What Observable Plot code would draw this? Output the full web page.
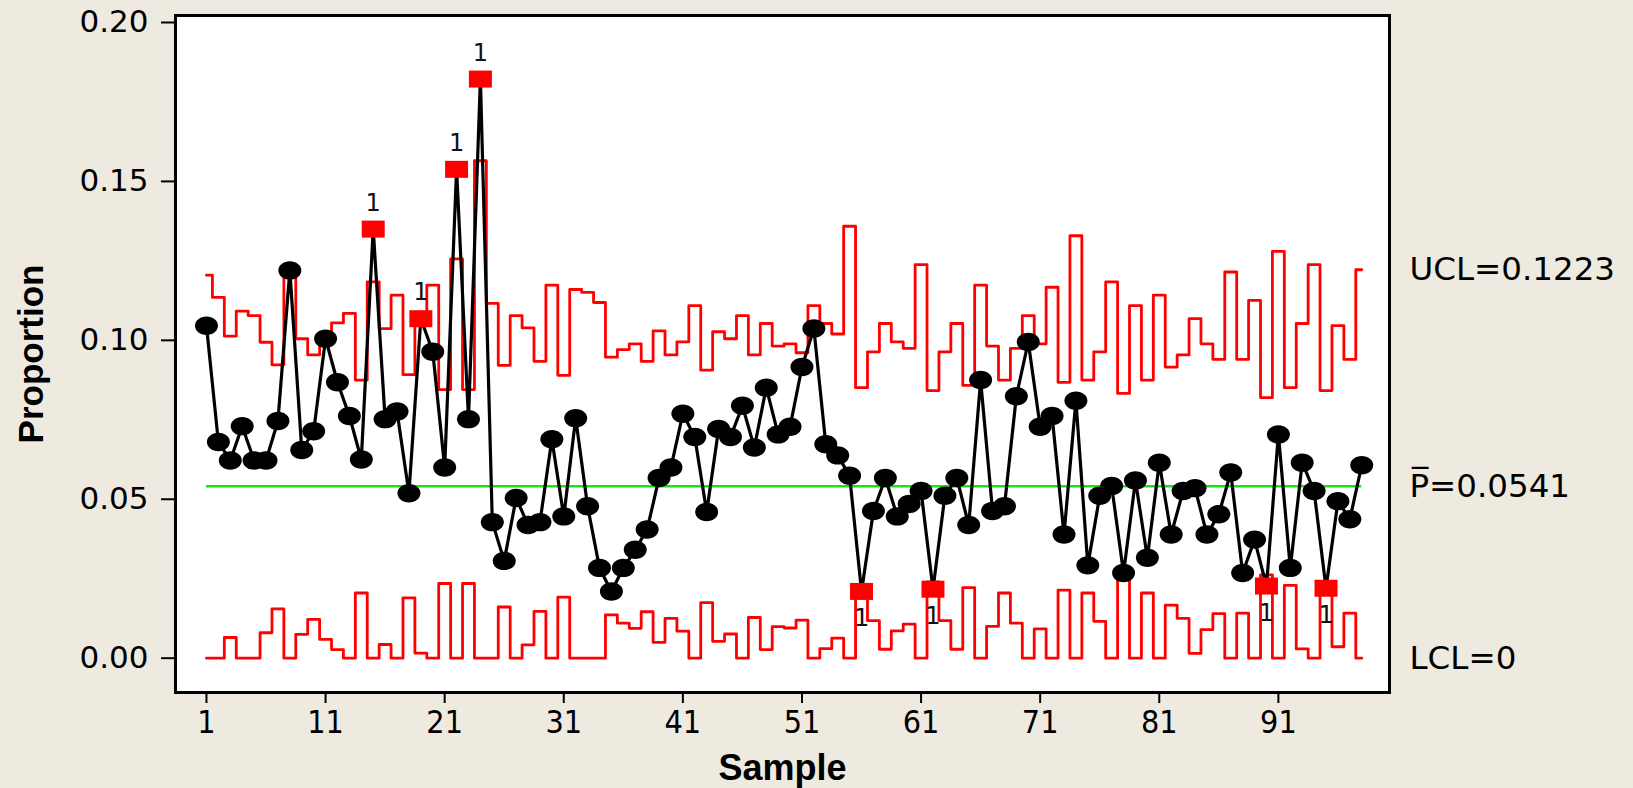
<!DOCTYPE html>
<html><head><meta charset="utf-8">
<script src="https://cdn.jsdelivr.net/npm/d3@7"></script>
<script src="https://cdn.jsdelivr.net/npm/@observablehq/plot@0.6"></script>
<style>
html,body{margin:0;padding:0;background:#EEEAE0;overflow:hidden;}
#chart svg{display:block;}
</style></head><body><div id="chart"></div>
<script>
// Sample proportions (samples 1..98)
const proportion = [
0.1046,0.0680,0.0622,0.0730,0.0622,0.0622,0.0746,0.1220,0.0655,0.0714,
0.1005,0.0868,0.0762,0.0625,0.1350,0.0752,0.0776,0.0519,0.1068,0.0964,
0.0600,0.1538,0.0752,0.1822,0.0428,0.0306,0.0504,0.0419,0.0428,0.0689,
0.0446,0.0755,0.0478,0.0284,0.0210,0.0284,0.0341,0.0405,0.0567,0.0600,
0.0769,0.0696,0.0460,0.0721,0.0696,0.0794,0.0663,0.0851,0.0704,0.0728,
0.0916,0.1037,0.0673,0.0638,0.0574,0.0210,0.0463,0.0567,0.0446,0.0485,
0.0526,0.0217,0.0511,0.0567,0.0419,0.0875,0.0463,0.0478,0.0824,0.0995,
0.0728,0.0762,0.0389,0.0810,0.0292,0.0511,0.0542,0.0268,0.0559,0.0316,
0.0615,0.0389,0.0526,0.0535,0.0389,0.0453,0.0584,0.0268,0.0373,0.0227,
0.0704,0.0284,0.0615,0.0526,0.0220,0.0494,0.0437,0.0607];
// Upper control limit per sample
const ucl = [
0.1205,0.1135,0.1013,0.1092,0.1078,0.0994,0.0923,0.1228,0.1005,0.0954,
0.1023,0.1055,0.1085,0.0875,0.1184,0.1037,0.1142,0.0892,0.1066,0.1174,
0.0845,0.1256,0.0845,0.1565,0.1116,0.0921,0.1078,0.1039,0.0934,0.1174,
0.0890,0.1160,0.1151,0.1119,0.0947,0.0971,0.0989,0.0934,0.1030,0.0954,
0.0995,0.1109,0.0906,0.1027,0.1005,0.1078,0.0954,0.1053,0.0982,0.0989,
0.0961,0.1109,0.1053,0.1020,0.1359,0.0851,0.0964,0.1053,0.0995,0.0975,
0.1238,0.0842,0.0964,0.1053,0.0858,0.1174,0.0982,0.0875,0.0975,0.1078,
0.0989,0.1167,0.0868,0.1329,0.0875,0.0964,0.1184,0.0833,0.1109,0.0875,
0.1142,0.0916,0.0954,0.1068,0.0989,0.0940,0.1215,0.0940,0.1126,0.0820,
0.1280,0.0851,0.1053,0.1238,0.0842,0.1046,0.0940,0.1222];
// Lower control limit per sample
const lcl = [
0,0,0.0065,0,0,0.0080,0.0155,0,0.0075,0.0122,
0.0059,0.0027,0,0.0205,0,0.0043,0,0.0190,0.0016,0,
0.0235,0,0.0235,0,0,0.0161,0,0.0042,0.0147,0,
0.0192,0,0,0,0.0136,0.0110,0.0094,0.0146,0.0050,0.0125,
0.0085,0,0.0175,0.0053,0.0076,0,0.0128,0.0027,0.0099,0.0095,
0.0120,0,0.0030,0.0063,0,0.0231,0.0118,0.0028,0.0086,0.0107,
0,0.0240,0.0118,0.0028,0.0222,0,0.0100,0.0205,0.0110,0,
0.0092,0,0.0214,0,0.0205,0.0116,0,0.0247,0,0.0205,
0,0.0167,0.0125,0.0015,0.0090,0.0140,0,0.0142,0,0.0262,
0,0.0229,0.0029,0,0.0240,0.0036,0.0142,0];
const pBar = 0.0541;
const flagged = [15,19,22,24,56,62,90,95];
const uclText = "UCL=0.1223";
const centerText = "P\u0305=0.0541";
const lclText = "LCL=0";
const flagText = "1";
const yTicks = [0, 0.05, 0.10, 0.15, 0.20];
const xTicks = [1, 11, 21, 31, 41, 51, 61, 71, 81, 91];
const xTitle = "Sample";
const yTitle = "Proportion";

const data = proportion.map((p, i) => ({sample: i + 1, p, ucl: ucl[i], lcl: lcl[i], flag: flagged.includes(i + 1)}));
const first = data[0], last = data[data.length - 1];
const normal = data.filter(d => !d.flag);
const hi = data.filter(d => d.flag && d.p > pBar);
const lo = data.filter(d => d.flag && d.p <= pBar);
const rightLabels = [
  {y: last.ucl, text: uclText},
  {y: pBar, text: centerText},
  {y: last.lcl, text: lclText}
];

const ellipse = {draw(ctx) {
  const rx = 11.5, ry = 9.2, k = 0.5523;
  ctx.moveTo(rx, 0);
  ctx.bezierCurveTo(rx, k*ry, k*rx, ry, 0, ry);
  ctx.bezierCurveTo(-k*rx, ry, -rx, k*ry, -rx, 0);
  ctx.bezierCurveTo(-rx, -k*ry, -k*rx, -ry, 0, -ry);
  ctx.bezierCurveTo(k*rx, -ry, rx, -k*ry, rx, 0);
  ctx.closePath();
}};
const box = {draw(ctx) {
  const w = 11.5, h = 8.5;
  ctx.moveTo(-w, -h); ctx.lineTo(w, -h); ctx.lineTo(w, h); ctx.lineTo(-w, h); ctx.closePath();
}};

const narrow = "'Liberation Sans Narrow', 'DejaVu Sans Condensed', sans-serif";
const bold = "'Liberation Sans', Arial, sans-serif";
const plot = Plot.plot({
  width: 1633,
  height: 788,
  marginLeft: 175,
  marginRight: 244,
  marginTop: 15,
  marginBottom: 96,
  style: {background: "#EEEAE0", color: "#000", overflow: "visible"},
  x: {domain: [-1.6, 100.33]},
  y: {domain: [-0.0108, 0.2022]},
  marks: [
    Plot.frame({fill: "white", stroke: "none"}),
    Plot.ruleY([pBar], {x1: first.sample, x2: last.sample, stroke: "#14e614", strokeWidth: 2.4}),
    Plot.line(data, {x: "sample", y: "ucl", curve: "step", stroke: "#ff0000", strokeWidth: 2.8}),
    Plot.line(data, {x: "sample", y: "lcl", curve: "step", stroke: "#ff0000", strokeWidth: 2.8}),
    Plot.line(data, {x: "sample", y: "p", stroke: "#000", strokeWidth: 3.2}),
    Plot.dot(normal, {x: "sample", y: "p", symbol: ellipse, fill: "#000", stroke: "none"}),
    Plot.dot(data.filter(d => d.flag), {x: "sample", y: "p", symbol: box, fill: "#ff0000", stroke: "none"}),
    Plot.text(hi, {x: "sample", y: "p", text: () => flagText, dy: -26, fontSize: 24, fontFamily: "DejaVu Sans", fill: "#111"}),
    Plot.text(lo, {x: "sample", y: "p", text: () => flagText, dy: 27, fontSize: 24, fontFamily: "DejaVu Sans", fill: "#111"}),
    Plot.frame({stroke: "#000", strokeWidth: 3}),
    Plot.axisY({ticks: yTicks, tickSize: 14, tickPadding: 13, tickFormat: d => d.toFixed(2), fontSize: 31, fontFamily: "DejaVu Sans", strokeWidth: 2, label: null}),
    Plot.axisX({ticks: xTicks, tickSize: 11, tickPadding: 7, tickFormat: d => String(d), fontSize: 32, fontFamily: narrow, strokeWidth: 2, label: null}),
    Plot.text(rightLabels, {y: "y", text: "text", frameAnchor: "right", dx: 20, textAnchor: "start", fontSize: 32.5, fontFamily: "DejaVu Sans", fill: "#000"}),
    Plot.text([xTitle], {frameAnchor: "bottom", dy: 76, lineAnchor: "middle", textAnchor: "middle", text: d => d, fontSize: 36, fontWeight: "bold", fontFamily: bold, fill: "#000"}),
    Plot.text([yTitle], {frameAnchor: "left", dx: -144, rotate: -90, lineAnchor: "middle", textAnchor: "middle", text: d => d, fontSize: 35, fontWeight: "bold", fontFamily: bold, fill: "#000"})
  ]
});
document.getElementById("chart").appendChild(plot);
</script></body></html>
